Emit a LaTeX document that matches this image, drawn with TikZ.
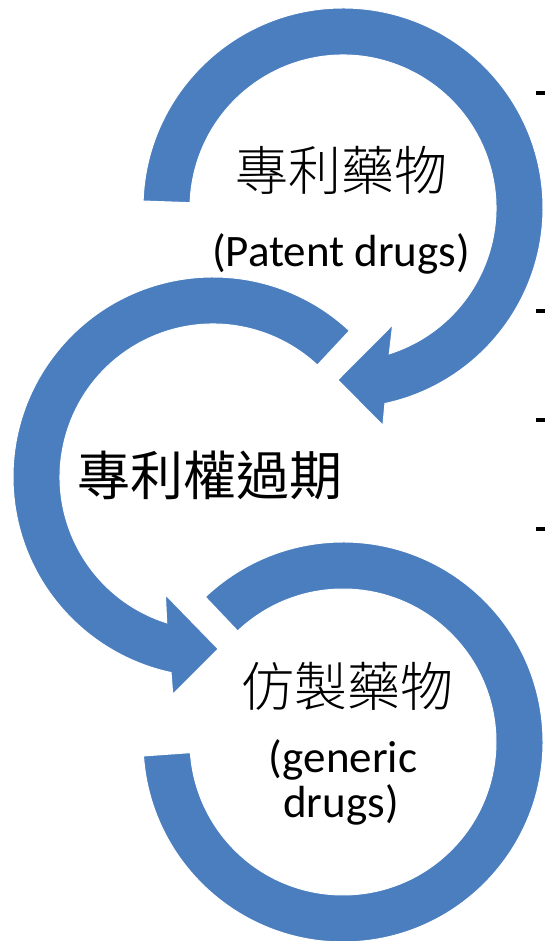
\documentclass[tikz,border=0pt]{standalone}
\usepackage{fontspec}
\setmainfont{Carlito}
\newfontfamily\cjk{Noto Sans CJK TC}
\IfFontExistsTF{Noto Sans CJK TC Light}
  {\newfontfamily\cjklight{Noto Sans CJK TC Light}}
  {\IfFontExistsTF{Noto Sans CJK TC DemiLight}
     {\newfontfamily\cjklight{Noto Sans CJK TC DemiLight}}
     {\newfontfamily\cjklight{Noto Sans CJK TC}}}
\definecolor{arcblue}{HTML}{4A7EBF}
\begin{document}
\begin{tikzpicture}[x=1pt,y=1pt,
  arcshape/.style={fill=arcblue, draw=white, line width=1pt, line join=miter},
  cjklabel/.style={font=\cjk\fontsize{53}{60}\selectfont, inner sep=0pt},
  cjkthin/.style={font=\cjklight\fontsize{53}{60}\selectfont, inner sep=0pt},
  latlabel/.style={font=\fontsize{45}{54}\selectfont, inner sep=0pt, anchor=base},
  tickmark/.style={line width=3.2pt, black}]
\useasboundingbox (0,0) rectangle (545,941);
\coordinate (ctop) at (343,733);
\coordinate (cmid) at (213,464);
\coordinate (cbot) at (343,199);

% bottom ring (no arrowhead)
\begin{scope}[shift={(cbot)}]
\path[arcshape] (184:200) arc[start angle=184, end angle=493.5, radius=200]
  -- (493.5:153) arc[start angle=493.5, end angle=184, radius=153] -- cycle;
\end{scope}

% middle ring with arrow
\begin{scope}[shift={(cmid)}]
\path[arcshape] (47:200) arc[start angle=47, end angle=257.9, radius=200]
  -- (259.5:221) -- (271.7:172) -- (248:127) -- (252.4:153)
  arc[start angle=252.4, end angle=47, radius=153] -- cycle;
\end{scope}

% top ring with arrow
\begin{scope}[shift={(ctop)}]
\path[arcshape] (178:200) arc[start angle=178, end angle=-77.9, radius=200]
  -- (-79.6:221) -- (-91.7:172) -- (-67:127) -- (-72.4:153)
  arc[start angle=-72.4, end angle=178, radius=153] -- cycle;
\end{scope}

% labels
\node[cjkthin] (patent) at (341,771) {專利藥物};
\node[latlabel] (patenten) at (341,674) {(Patent drugs)};
\node[cjklabel] (expire) at (210,466) {專利權過期};
\node[cjkthin] (generic) at (347,255) {仿製藥物};
\node[latlabel] (genericen1) at (343,168) {(generic};
\node[latlabel] (genericen2) at (341,123) {drugs)};

% cut-off marks at right edge
\draw[tickmark] (536,848) -- (545,848);
\draw[tickmark] (536,630) -- (545,630);
\draw[tickmark] (536,521) -- (545,521);
\draw[tickmark] (536,412) -- (545,412);
\end{tikzpicture}
\end{document}
